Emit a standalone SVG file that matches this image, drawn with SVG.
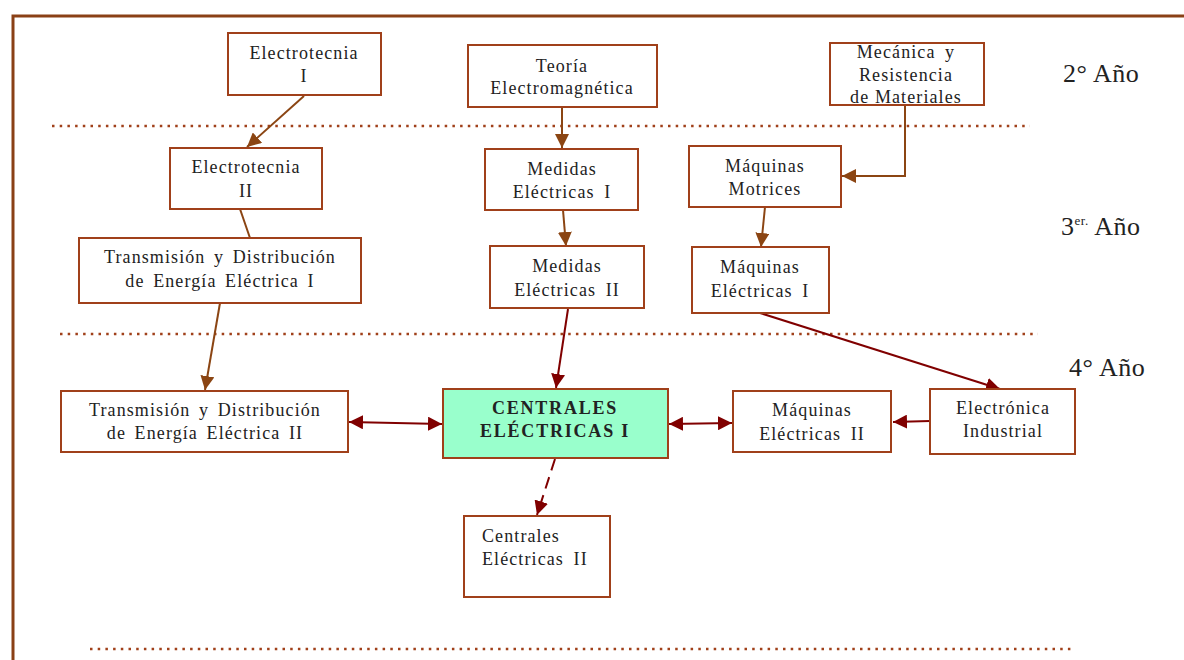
<svg xmlns="http://www.w3.org/2000/svg" width="1184" height="660" viewBox="0 0 1184 660">
<defs>
<style>
.frame{fill:none;stroke:#8a4016;stroke-width:3}
.dot{fill:none;stroke:#a0401a;stroke-width:2.5;stroke-dasharray:2.5 5.2}
.box{fill:#fff;stroke:#a0401a;stroke-width:2}
.main{fill:#99ffcc;stroke:#a0401a;stroke-width:2}
.t{font-family:"Liberation Serif",serif;font-size:18px;letter-spacing:1.1px;fill:#222;text-anchor:middle}
.b{font-weight:bold;font-size:18px;letter-spacing:1.8px}
.yr{font-family:"Liberation Serif",serif;font-size:26px;letter-spacing:0.5px;fill:#222}
.cb{fill:none;stroke:#8b4513;stroke-width:2}
.cr{fill:none;stroke:#800000;stroke-width:2}
</style>
<marker id="ar" viewBox="0 0 14 14" refX="14" refY="7" markerWidth="14" markerHeight="14" orient="auto-start-reverse" markerUnits="userSpaceOnUse">
<path d="M0,0 L14,7 L0,14 z" fill="#800000"/>
</marker>
<marker id="ab2" viewBox="0 0 14 14" refX="14" refY="7" markerWidth="14" markerHeight="14" orient="auto-start-reverse" markerUnits="userSpaceOnUse">
<path d="M0,0 L14,7 L0,14 z" fill="#8b4513"/>
</marker>
</defs>
<rect width="1184" height="660" fill="#fff"/>
<path class="frame" d="M13,660 V16 H1184"/>
<g id="dividers">
<line class="dot" x1="52" y1="126" x2="1030" y2="126"/>
<line class="dot" x1="60" y1="334" x2="1038" y2="334"/>
<line class="dot" x1="90" y1="649" x2="1073" y2="649"/>
</g>
<g id="years">
<text class="yr" x="1063" y="82">2° Año</text>
<text class="yr" x="1061" y="235">3<tspan font-size="13" dy="-10">er.</tspan><tspan dy="10"> Año</tspan></text>
<text class="yr" x="1069" y="376">4° Año</text>
</g>
<g id="connectors">
<line class="cb" x1="304" y1="96" x2="247" y2="147" marker-end="url(#ab2)"/>
<line class="cb" x1="562" y1="107" x2="562" y2="148" marker-end="url(#ab2)"/>
<polyline class="cb" points="905,104 905,176 842,176" marker-end="url(#ab2)"/>
<line class="cb" x1="240" y1="209" x2="250" y2="238"/>
<line class="cb" x1="563" y1="210" x2="566" y2="246" marker-end="url(#ab2)"/>
<line class="cb" x1="765" y1="207" x2="761" y2="247" marker-end="url(#ab2)"/>
<line class="cb" x1="220" y1="303" x2="205" y2="390" marker-end="url(#ab2)"/>
<line class="cr" x1="568" y1="309" x2="556" y2="388" marker-end="url(#ar)"/>
<line class="cr" x1="760" y1="313" x2="1000" y2="389" marker-end="url(#ar)"/>
<line class="cr" x1="349" y1="422" x2="442" y2="424" marker-start="url(#ar)" marker-end="url(#ar)"/>
<line class="cr" x1="669" y1="424" x2="732" y2="423" marker-start="url(#ar)" marker-end="url(#ar)"/>
<line class="cr" x1="930" y1="421" x2="893" y2="422" marker-end="url(#ar)"/>
<line class="cr" x1="555" y1="459" x2="537" y2="515" stroke-width="2.5" stroke-dasharray="12 7" marker-end="url(#ar)"/>
</g>
<g id="n-electrotecnia1"><rect class="box" x="228" y="33" width="153" height="62"/><text class="t" x="304" y="59">Electrotecnia</text><text class="t" x="304" y="82">I</text></g>
<g id="n-teoria"><rect class="box" x="468" y="45" width="189" height="62"/><text class="t" x="562" y="72">Teoría</text><text class="t" x="562" y="94">Electromagnética</text></g>
<g id="n-mecanica"><rect class="box" x="830" y="43" width="154" height="62"/><text class="t" x="906" y="58" word-spacing="4">Mecánica y</text><text class="t" x="906" y="81">Resistencia</text><text class="t" x="906" y="103">de Materiales</text></g>
<g id="n-electrotecnia2"><rect class="box" x="170" y="148" width="152" height="61"/><text class="t" x="246" y="173">Electrotecnia</text><text class="t" x="246" y="197">II</text></g>
<g id="n-medidas1"><rect class="box" x="485" y="149" width="153" height="61"/><text class="t" x="562" y="175" word-spacing="4">Medidas</text><text class="t" x="562" y="198" word-spacing="4">Eléctricas I</text></g>
<g id="n-motrices"><rect class="box" x="689" y="146" width="152" height="61"/><text class="t" x="765" y="172">Máquinas</text><text class="t" x="765" y="195">Motrices</text></g>
<g id="n-transmision1"><rect class="box" x="79" y="238" width="282" height="65"/><text class="t" x="220" y="263" word-spacing="3">Transmisión y Distribución</text><text class="t" x="220" y="287" word-spacing="3">de Energía Eléctrica I</text></g>
<g id="n-medidas2"><rect class="box" x="490" y="246" width="154" height="62"/><text class="t" x="567" y="272">Medidas</text><text class="t" x="567" y="296" word-spacing="4">Eléctricas II</text></g>
<g id="n-maquinas1"><rect class="box" x="692" y="247" width="137" height="66"/><text class="t" x="760" y="273">Máquinas</text><text class="t" x="760" y="297" word-spacing="4">Eléctricas I</text></g>
<g id="n-transmision2"><rect class="box" x="61" y="391" width="287" height="61"/><text class="t" x="205" y="416" word-spacing="3">Transmisión y Distribución</text><text class="t" x="205" y="439" word-spacing="3">de Energía Eléctrica II</text></g>
<g id="n-centrales1"><rect class="main" x="443" y="389" width="225" height="69"/><text class="t b" x="555" y="414">CENTRALES</text><text class="t b" x="555" y="437">ELÉCTRICAS I</text></g>
<g id="n-maquinas2"><rect class="box" x="733" y="391" width="158" height="61"/><text class="t" x="812" y="416">Máquinas</text><text class="t" x="812" y="440" word-spacing="4">Eléctricas II</text></g>
<g id="n-electronica"><rect class="box" x="930" y="389" width="145" height="65"/><text class="t" x="1003" y="414">Electrónica</text><text class="t" x="1003" y="437">Industrial</text></g>
<g id="n-centrales2"><rect class="box" x="464" y="516" width="146" height="81"/><text class="t" x="482" y="542" style="text-anchor:start">Centrales</text><text class="t" x="482" y="565" style="text-anchor:start" word-spacing="4">Eléctricas II</text></g>
</svg>
